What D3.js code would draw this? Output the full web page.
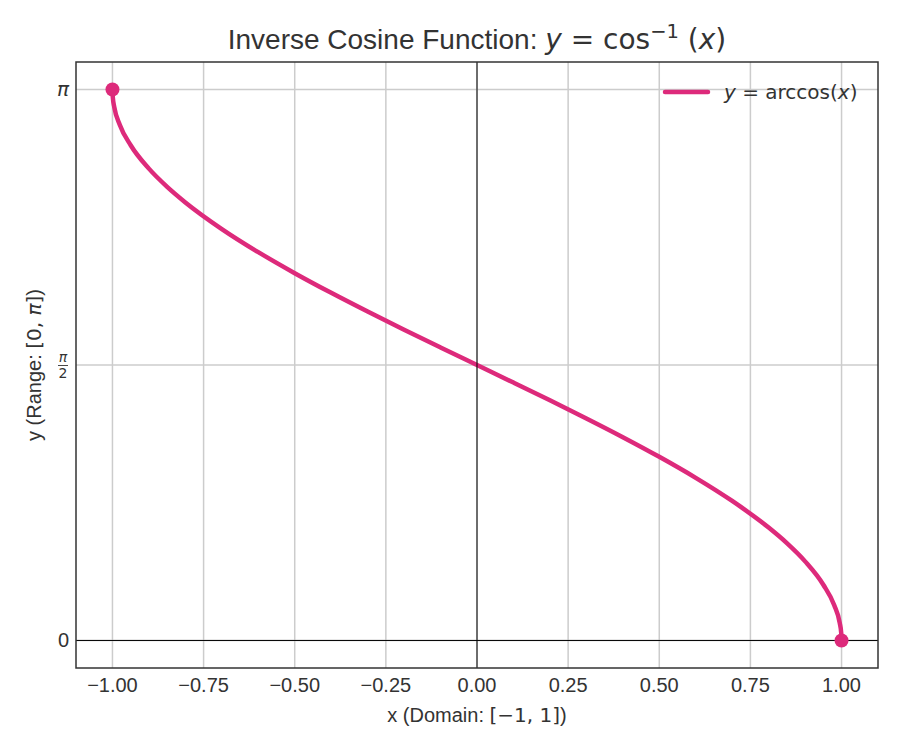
<!DOCTYPE html>
<html>
<head>
<meta charset="utf-8">
<script src="https://cdn.jsdelivr.net/npm/d3@7"></script>
<style>
  body { margin: 0; background: #fff; }
  .sans { font-family: "Liberation Sans", Arial, sans-serif; }
  .math { font-family: "DejaVu Sans", sans-serif; }
</style>
</head>
<body>
<div id="chart"></div>
<script>
// x samples and the curve heights (y = arccos x)
const xValues = [-1, -0.999, -0.995, -0.98, -0.95, -0.9, -0.85, -0.8, -0.7, -0.6, -0.5, -0.4, -0.3, -0.2, -0.1,
                 0, 0.1, 0.2, 0.3, 0.4, 0.5, 0.6, 0.7, 0.8, 0.85, 0.9, 0.95, 0.98, 0.995, 0.999, 1];
const yValues = [3.1416, 3.0969, 3.0416, 2.9413, 2.8240, 2.6906, 2.5868, 2.4981, 2.3462, 2.2143, 2.0944, 1.9823, 1.8755, 1.7722, 1.6710,
                 1.5708, 1.4706, 1.3694, 1.2661, 1.1593, 1.0472, 0.9273, 0.7954, 0.6435, 0.5548, 0.4510, 0.3176, 0.2003, 0.1000, 0.0447, 0];
// end points marked with dots
const endX = [-1, 1];
const endY = [3.1416, 0];
const xTicks = [-1, -0.75, -0.5, -0.25, 0, 0.25, 0.5, 0.75, 1];
const yTicks = [0, 1.5708, 3.1416];

const W = 900, H = 750;
const margin = { left: 76, top: 62, right: 22, bottom: 82 };
const pink = '#dd2a7b';
const ink = '#333';

const svg = d3.select('#chart').append('svg')
    .attr('width', W)
    .attr('height', H);

const x = d3.scaleLinear().domain([-1.1, 1.1]).range([margin.left, W - margin.right]);
const y = d3.scaleLinear().domain([-0.05 * Math.PI, 1.05 * Math.PI]).range([H - margin.bottom, margin.top]);

// 网格
const grid = svg.append('g');
grid.selectAll('line.vx').data(xTicks).enter().append('line')
    .attr('x1', d => x(d)).attr('x2', d => x(d))
    .attr('y1', y.range()[0]).attr('y2', y.range()[1])
    .attr('stroke', '#cccccc').attr('stroke-width', 1.5);
grid.selectAll('line.hy').data(yTicks).enter().append('line')
    .attr('y1', d => y(d)).attr('y2', d => y(d))
    .attr('x1', x.range()[0]).attr('x2', x.range()[1])
    .attr('stroke', '#cccccc').attr('stroke-width', 1.5);

// 曲线
const pts = xValues.map((v, i) => [v, yValues[i]]);
svg.append('path')
    .datum(pts)
    .attr('d', d3.line().x(d => x(d[0])).y(d => y(d[1])).curve(d3.curveMonotoneX))
    .attr('fill', 'none')
    .attr('stroke', pink)
    .attr('stroke-width', 4.5)
    .attr('stroke-linecap', 'round');

// x=0, y=0 参考线
svg.append('line')
    .attr('x1', x.range()[0]).attr('x2', x.range()[1])
    .attr('y1', y(0)).attr('y2', y(0))
    .attr('stroke', '#000').attr('stroke-width', 1);
svg.append('line')
    .attr('x1', x(0)).attr('x2', x(0))
    .attr('y1', y.range()[0]).attr('y2', y.range()[1])
    .attr('stroke', '#000').attr('stroke-width', 1);

// 端点
svg.selectAll('circle.end').data(endX).enter().append('circle')
    .attr('cx', d => x(d))
    .attr('cy', (d, i) => y(endY[i]))
    .attr('r', 7)
    .attr('fill', pink);

// 边框
svg.append('rect')
    .attr('x', x.range()[0]).attr('y', y.range()[1])
    .attr('width', x.range()[1] - x.range()[0])
    .attr('height', y.range()[0] - y.range()[1])
    .attr('fill', 'none')
    .attr('stroke', ink).attr('stroke-width', 1.5);

// x 轴刻度
const fmt = d3.format('.2f');
svg.append('g').selectAll('text').data(xTicks).enter().append('text')
    .attr('class', 'sans')
    .attr('x', d => x(d))
    .attr('y', y.range()[0] + 24)
    .attr('text-anchor', 'middle')
    .attr('font-size', 20)
    .attr('fill', ink)
    .text(d => fmt(d).replace('-', '\u2212'));

// y 轴刻度
const tx = x.range()[0] - 7;
svg.append('text').attr('class', 'sans')
    .attr('x', tx).attr('y', y(0) + 7)
    .attr('text-anchor', 'end').attr('font-size', 20).attr('fill', ink)
    .text('0');
svg.append('text').attr('class', 'math')
    .attr('x', tx).attr('y', y(Math.PI) + 6)
    .attr('text-anchor', 'end').attr('font-size', 20).attr('fill', ink)
    .attr('font-style', 'italic')
    .text('\u03c0');
const half = svg.append('g').attr('transform', `translate(${tx - 6},${y(Math.PI / 2)})`);
half.append('text').attr('class', 'math')
    .attr('y', -3).attr('text-anchor', 'middle').attr('font-size', 14)
    .attr('font-style', 'italic').attr('fill', ink).text('\u03c0');
half.append('line').attr('x1', -5).attr('x2', 5).attr('y1', 0.5).attr('y2', 0.5)
    .attr('stroke', ink).attr('stroke-width', 0.9);
half.append('text').attr('class', 'math')
    .attr('y', 13).attr('text-anchor', 'middle').attr('font-size', 14)
    .attr('fill', ink).text('2');

// 轴标题
const xl = svg.append('text').attr('class', 'sans')
    .attr('x', (x.range()[0] + x.range()[1]) / 2)
    .attr('y', 722)
    .attr('text-anchor', 'middle').attr('font-size', 20).attr('fill', ink);
xl.append('tspan').text('x (Domain: ');
xl.append('tspan').attr('class', 'math').text('[\u22121, 1]');
xl.append('tspan').text(')');

const yl = svg.append('text').attr('class', 'sans')
    .attr('transform', `translate(41,${(y.range()[0] + y.range()[1]) / 2}) rotate(-90)`)
    .attr('text-anchor', 'middle').attr('font-size', 20).attr('fill', ink);
yl.append('tspan').text('y (Range: ');
yl.append('tspan').attr('class', 'math').text('[0, ');
yl.append('tspan').attr('class', 'math').attr('font-style', 'italic').text('\u03c0');
yl.append('tspan').attr('class', 'math').text(']');
yl.append('tspan').text(')');

// 标题
const title = svg.append('text').attr('class', 'sans')
    .attr('x', (x.range()[0] + x.range()[1]) / 2)
    .attr('y', 49)
    .attr('text-anchor', 'middle').attr('font-size', 28).attr('fill', ink);
title.append('tspan').text('Inverse Cosine Function: ');
title.append('tspan').attr('class', 'math').attr('font-style', 'italic').text('y');
title.append('tspan').attr('class', 'math').text(' = cos');
title.append('tspan').attr('class', 'math').attr('font-size', 19.5).attr('dy', -11).text('\u22121');
title.append('tspan').attr('class', 'math').attr('dy', 11).text(' (');
title.append('tspan').attr('class', 'math').attr('font-style', 'italic').text('x');
title.append('tspan').attr('class', 'math').text(')');

// 图例
const lg = svg.append('g');
lg.append('line')
    .attr('x1', 665).attr('x2', 708).attr('y1', 92).attr('y2', 92)
    .attr('stroke', pink).attr('stroke-width', 4.5).attr('stroke-linecap', 'round');
const lt = lg.append('text').attr('class', 'math')
    .attr('x', 724).attr('y', 99)
    .attr('font-size', 20).attr('fill', ink);
lt.append('tspan').attr('font-style', 'italic').text('y');
lt.append('tspan').text(' = arccos(');
lt.append('tspan').attr('font-style', 'italic').text('x');
lt.append('tspan').text(')');
</script>
</body>
</html>
